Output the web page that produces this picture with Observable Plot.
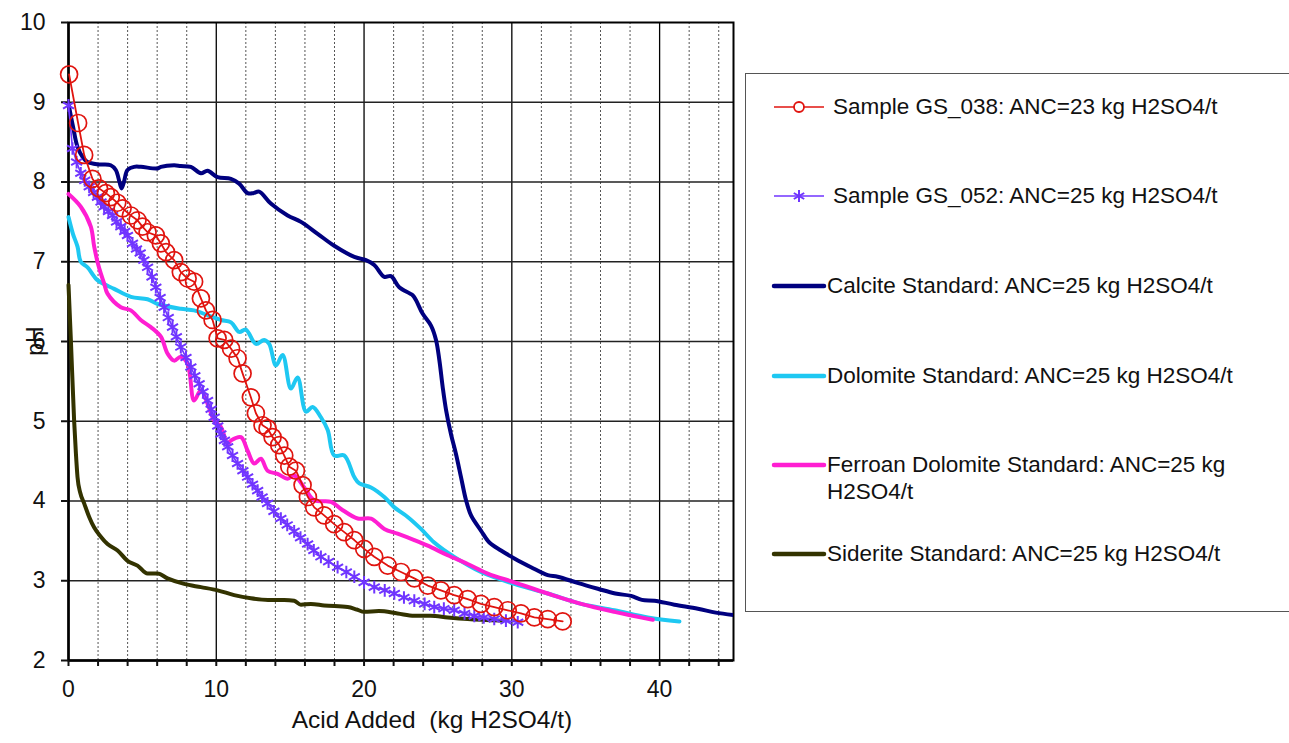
<!DOCTYPE html>
<html>
<head>
<meta charset="utf-8">
<script src="https://cdn.jsdelivr.net/npm/d3@7"></script>
<script src="https://cdn.jsdelivr.net/npm/@observablehq/plot@0.6"></script>
<style>
  html, body { margin: 0; padding: 0; background: #fff; width: 1289px; height: 743px; overflow: hidden; }
  body { position: relative; font-family: "Liberation Sans", Arial, sans-serif; }
  #chart { position: absolute; left: 0; top: 0; }
  #ylabel { position: absolute; left: 35px; top: 341px; font-size: 23px; color: #111; transform: translate(-50%, -50%) rotate(-90deg); white-space: nowrap; line-height: 23px; }
  #legend { position: absolute; left: 745px; top: 73px; width: 560px; height: 539px; border: 1.5px solid #555; box-sizing: border-box; }
  .item { position: absolute; font-size: 22.5px; line-height: 27px; color: #111; white-space: nowrap; }
  .sw { position: absolute; }
</style>
</head>
<body>
<div id="chart"></div>
<div id="ylabel"></div>
<div id="legend"></div>
<script>
// ---- data ----
const seriesNames = [
  "Sample GS_038: ANC=23 kg H2SO4/t",
  "Sample GS_052: ANC=25 kg H2SO4/t",
  "Calcite Standard: ANC=25 kg H2SO4/t",
  "Dolomite Standard: ANC=25 kg H2SO4/t",
  "Ferroan Dolomite Standard: ANC=25 kg H2SO4/t",
  "Siderite Standard: ANC=25 kg H2SO4/t"
];
const seriesColors = ["#e0140f", "#7035ff", "#00007f", "#1ec8f2", "#ff1ed2", "#333300"];

const gs038X = [0.04,0.65,1.06,1.62,2.07,2.53,2.86,3.3,3.66,4.22,4.67,5.0,5.35,5.91,6.25,6.6,7.15,7.6,8.06,8.5,8.96,9.3,9.75,10.09,10.54,11.0,11.44,11.78,12.34,12.68,13.13,13.47,13.81,14.26,14.6,14.94,15.39,15.84,16.2,16.63,17.3,17.98,18.66,19.34,20.01,20.69,21.6,22.5,23.4,24.31,25.2,26.1,27.01,27.91,28.81,29.72,30.62,31.52,32.43,33.44];
const gs038Y = [9.35,8.74,8.34,8.04,7.92,7.86,7.81,7.74,7.67,7.58,7.52,7.44,7.37,7.33,7.23,7.12,7.02,6.87,6.79,6.75,6.54,6.39,6.27,6.04,6.02,5.91,5.79,5.60,5.30,5.10,4.95,4.91,4.80,4.70,4.57,4.43,4.38,4.20,4.05,3.92,3.82,3.71,3.61,3.51,3.40,3.30,3.19,3.11,3.03,2.94,2.88,2.82,2.77,2.71,2.67,2.63,2.59,2.54,2.52,2.49];

const gs052X = [0,0.27,0.55,0.83,1.1,1.4,1.7,1.96,2.2,2.41,2.7,2.98,3.25,3.54,3.8,3.99,4.33,4.6,4.85,5.1,5.35,5.65,5.91,6.2,6.47,6.75,7.04,7.3,7.6,7.95,8.28,8.55,8.84,9.1,9.41,9.65,9.86,10.1,10.31,10.55,10.77,11.1,11.44,11.8,12.12,12.45,12.8,13.1,13.47,13.9,14.37,14.8,15.27,15.7,16.18,16.6,17.08,17.6,18.21,18.8,19.34,20.0,20.69,21.4,22.05,22.7,23.4,24.1,24.75,25.4,26.1,26.8,27.46,28.1,28.81,29.6,30.4];
const gs052Y = [8.96,8.42,8.25,8.11,8.02,7.94,7.87,7.81,7.75,7.69,7.63,7.58,7.5,7.44,7.38,7.33,7.23,7.16,7.11,7.02,6.93,6.81,6.68,6.55,6.43,6.3,6.18,6.06,5.93,5.8,5.68,5.57,5.47,5.37,5.26,5.15,5.05,4.94,4.84,4.76,4.68,4.57,4.47,4.38,4.30,4.21,4.13,4.05,3.97,3.87,3.78,3.7,3.62,3.54,3.46,3.38,3.30,3.24,3.17,3.11,3.05,2.98,2.92,2.88,2.84,2.79,2.75,2.71,2.67,2.65,2.63,2.59,2.56,2.54,2.52,2.5,2.48];

const calciteX = [0,0.3,0.61,1.0,1.29,2.0,2.86,3.2,3.45,3.59,3.75,3.99,4.44,4.9,6.03,6.25,7.15,7.6,8.28,8.96,9.41,10.09,10.99,11.55,12.12,12.5,12.9,13.69,14.83,15.73,16.86,17.98,19.34,20.13,20.69,21.37,21.82,22.38,23.29,23.51,23.96,24.53,24.87,25.1,25.32,25.55,25.88,26.22,26.56,26.9,27.24,27.91,28.48,29.27,30.17,31.3,32.43,33.1,34.5,35.82,37.0,38.07,38.8,39.65,41.0,42.59,43.8,45.0];
const calciteY = [8.98,8.7,8.44,8.3,8.25,8.22,8.21,8.15,8.0,7.92,8.0,8.15,8.19,8.19,8.17,8.19,8.21,8.2,8.19,8.11,8.14,8.06,8.04,7.98,7.86,7.86,7.88,7.73,7.58,7.5,7.35,7.2,7.06,7.02,6.96,6.81,6.82,6.68,6.58,6.52,6.35,6.20,6.02,5.76,5.43,5.14,4.84,4.59,4.30,4.01,3.82,3.63,3.48,3.38,3.28,3.17,3.07,3.05,2.97,2.9,2.84,2.81,2.76,2.75,2.70,2.65,2.6,2.57];

const dolomiteX = [0,0.3,0.61,0.83,1.29,1.96,3.09,4.22,5.35,6.03,7.6,8.5,9.41,10.31,11.0,11.55,12.0,12.68,13.24,13.58,14.04,14.49,15.05,15.5,16.07,16.52,17.08,17.54,17.98,18.66,19.34,19.68,20.47,21.37,22.05,22.95,23.85,24.75,26.1,27.91,30.17,32.43,34.69,36.94,39.2,41.34];
const dolomiteY = [7.56,7.35,7.19,7.0,6.93,6.77,6.66,6.56,6.53,6.47,6.41,6.39,6.33,6.27,6.24,6.12,6.15,5.97,6.02,5.97,5.70,5.83,5.41,5.55,5.12,5.18,5.05,4.89,4.57,4.57,4.30,4.22,4.17,4.05,3.92,3.80,3.65,3.48,3.30,3.11,2.96,2.84,2.71,2.63,2.54,2.49];

const ferroanX = [0,0.83,1.51,1.73,1.96,2.19,2.41,2.64,3.54,4.22,4.89,5.57,6.25,6.7,7.15,7.6,8.06,8.5,8.96,9.41,9.86,10.31,10.77,11.0,11.67,12.12,12.57,13.02,13.47,14.15,14.83,15.27,15.95,16.63,17.76,18.44,19.57,20.47,21.37,22.27,23.4,24.31,25.66,27.01,28.37,30.17,32.43,34.69,36.94,39.54];
const ferroanY = [7.85,7.69,7.44,7.2,7.0,6.85,6.73,6.60,6.43,6.39,6.27,6.18,6.06,5.85,5.76,5.81,5.72,5.26,5.39,5.22,5.01,4.93,4.72,4.76,4.80,4.63,4.47,4.53,4.38,4.34,4.28,4.32,4.17,4.01,3.99,3.90,3.78,3.78,3.65,3.59,3.51,3.44,3.32,3.21,3.09,2.98,2.84,2.71,2.61,2.51];

const sideriteX = [0,0.16,0.38,0.5,0.61,0.8,1.06,1.4,1.73,2.2,2.64,3.32,3.99,4.67,5.35,6.03,6.7,7.83,8.96,10.09,11.21,12.34,13.5,14.6,15.27,15.73,16.4,17.3,18.89,19.5,20.01,21.0,22.27,23.4,24.5,25.66,27.01,29.27];
const sideriteY = [6.71,6.02,5.01,4.6,4.3,4.1,3.97,3.8,3.67,3.55,3.46,3.38,3.25,3.19,3.09,3.09,3.03,2.96,2.92,2.88,2.82,2.78,2.76,2.76,2.75,2.70,2.71,2.69,2.67,2.64,2.61,2.62,2.59,2.56,2.56,2.54,2.52,2.50];

const xTicks = d3.range(0, 45, 2);
const xLabelTicks = [0, 10, 20, 30, 40];
const yTicks = [2, 3, 4, 5, 6, 7, 8, 9, 10];
const xTitle = "Acid Added\u00a0 (kg H2SO4/t)";
const yTitle = "pH";

// ---- build tables ----
const zip = (xs, ys) => xs.map((x, i) => ({x, y: ys[i]}));
const gs038 = zip(gs038X, gs038Y);
const gs052 = zip(gs052X, gs052Y);
const calcite = zip(calciteX, calciteY);
const dolomite = zip(dolomiteX, dolomiteY);
const ferroan = zip(ferroanX, ferroanY);
const siderite = zip(sideriteX, sideriteY);

const minorX = xTicks.filter(d => d % 10 !== 0);
const majorX = [10, 20, 30, 40];

const chart = Plot.plot({
  width: 745,
  height: 743,
  marginLeft: 68,
  marginRight: 12,
  marginTop: 22,
  marginBottom: 83,
  style: {fontFamily: "'Liberation Sans', Arial, sans-serif", fontSize: "23px", color: "#111", background: "transparent"},
  x: {domain: [0, 45], label: null},
  y: {domain: [2, 10], label: null},
  marks: [
    Plot.gridX(minorX, {stroke: "#555", strokeOpacity: 1, strokeWidth: 1, strokeDasharray: "2,2"}),
    Plot.gridX(majorX, {stroke: "#000", strokeOpacity: 1, strokeWidth: 1.3}),
    Plot.gridY(yTicks.slice(1, -1), {stroke: "#222", strokeOpacity: 1, strokeWidth: 1.5}),
    Plot.frame({stroke: "#000", strokeWidth: 2}),
    Plot.ruleY([2], {stroke: "#000", strokeWidth: 2.5}),
    Plot.ruleX([0], {stroke: "#000", strokeWidth: 2.5}),
    Plot.axisX({ticks: xTicks, tickSize: 6, tickPadding: 14, strokeWidth: 2, tickFormat: d => xLabelTicks.includes(d) ? String(d) : ""}),
    Plot.axisY({ticks: yTicks, tickSize: 7, tickPadding: 16, strokeWidth: 2, tickFormat: d => String(d)}),
    Plot.text([xTitle], {frameAnchor: "bottom", dy: 67, dx: 31, fontSize: 24.5, fill: "#111"}),
    Plot.line(siderite, {x: "x", y: "y", stroke: seriesColors[5], strokeWidth: 4, curve: "monotone-x"}),
    Plot.line(dolomite, {x: "x", y: "y", stroke: seriesColors[3], strokeWidth: 4, curve: "catmull-rom"}),
    Plot.line(ferroan, {x: "x", y: "y", stroke: seriesColors[4], strokeWidth: 4, curve: "catmull-rom"}),
    Plot.line(calcite, {x: "x", y: "y", stroke: seriesColors[2], strokeWidth: 4, curve: "catmull-rom", clip: true}),
    Plot.line(gs052, {x: "x", y: "y", stroke: seriesColors[1], strokeWidth: 1.6}),
    Plot.dot(gs052, {x: "x", y: "y", symbol: "asterisk", r: 6, stroke: seriesColors[1], strokeWidth: 2}),
    Plot.line(gs038, {x: "x", y: "y", stroke: seriesColors[0], strokeWidth: 1.8}),
    Plot.dot(gs038, {x: "x", y: "y", r: 8.5, stroke: seriesColors[0], fill: "none", strokeWidth: 1.7})
  ]
});
document.getElementById("chart").appendChild(chart);
document.getElementById("ylabel").textContent = yTitle;

// ---- legend ----
const legend = document.getElementById("legend");
const legendCenters = [106, 195, 285, 375, 464, 553];
const lx0 = 745, ly0 = 73;
seriesNames.forEach((name, i) => {
  const cy = legendCenters[i] - ly0;
  const sw = document.createElementNS("http://www.w3.org/2000/svg", "svg");
  sw.setAttribute("class", "sw");
  sw.setAttribute("width", 60);
  sw.setAttribute("height", 20);
  sw.style.left = (770 - lx0) + "px";
  sw.style.top = (cy - 10) + "px";
  const ln = document.createElementNS("http://www.w3.org/2000/svg", "line");
  ln.setAttribute("x1", 3); ln.setAttribute("x2", 53);
  ln.setAttribute("y1", 10); ln.setAttribute("y2", 10);
  ln.setAttribute("stroke", seriesColors[i]);
  ln.setAttribute("stroke-width", i < 2 ? 1.6 : 4.5);
  ln.setAttribute("stroke-linecap", i < 2 ? "butt" : "round");
  sw.appendChild(ln);
  if (i === 0) {
    const c = document.createElementNS("http://www.w3.org/2000/svg", "circle");
    c.setAttribute("cx", 28); c.setAttribute("cy", 10); c.setAttribute("r", 5);
    c.setAttribute("fill", "#fff"); c.setAttribute("stroke", seriesColors[0]); c.setAttribute("stroke-width", 1.8);
    sw.appendChild(c);
  } else if (i === 1) {
    const p = document.createElementNS("http://www.w3.org/2000/svg", "path");
    p.setAttribute("d", "M28,4V16M22.8,7L33.2,13M22.8,13L33.2,7");
    p.setAttribute("stroke", seriesColors[1]); p.setAttribute("stroke-width", 2);
    sw.appendChild(p);
  }
  legend.appendChild(sw);
  const t = document.createElement("div");
  t.className = "item";
  t.style.left = ((i < 2 ? 832 : 826) - lx0) + "px";
  t.style.top = (cy - 14) + "px";
  if (i === 4) {
    t.innerHTML = "Ferroan Dolomite Standard: ANC=25 kg<br>H2SO4/t";
  } else {
    t.textContent = name;
  }
  legend.appendChild(t);
});
</script>
</body>
</html>
